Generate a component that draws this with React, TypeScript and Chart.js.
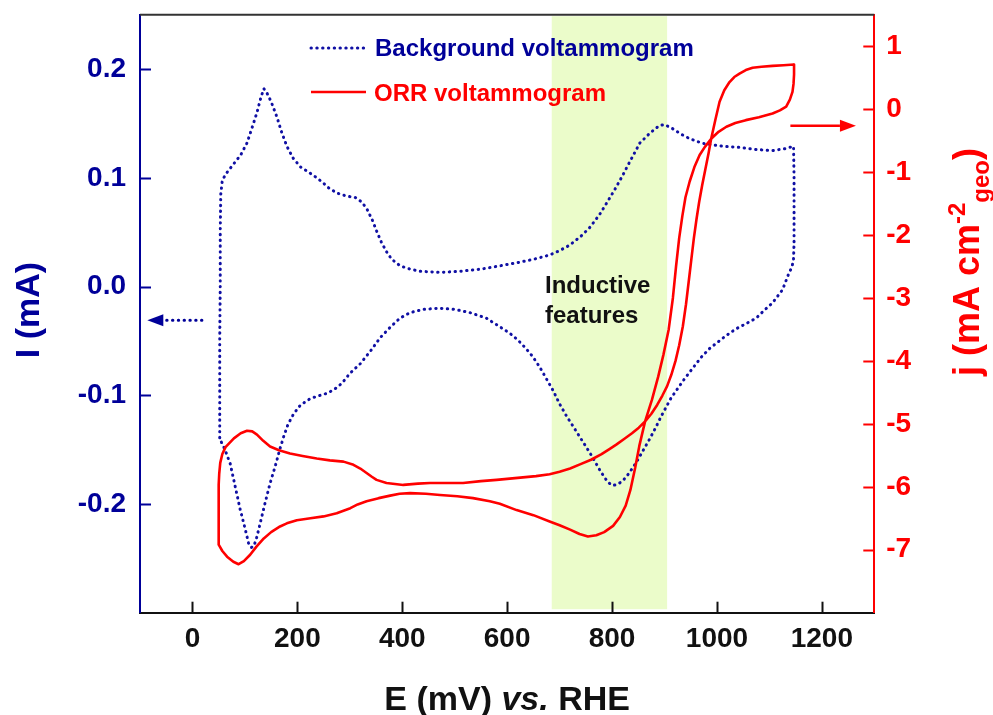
import { useEffect, useRef } from 'react';
import { Chart, registerables } from 'chart.js';

Chart.register(...registerables);

const FONT = '"Liberation Sans", Arial, Helvetica, sans-serif';
const BLUE = '#000099';
const DOT_BLUE = '#1010a4';
const RED = '#ff0000';
const BAND = '#ebfcca';

// Axis ticks
const potentialTicks = [0, 200, 400, 600, 800, 1000, 1200];
const currentTicks = [-0.2, -0.1, 0.0, 0.1, 0.2];
const densityTicks = [-7, -6, -5, -4, -3, -2, -1, 0, 1];

// Background CV (N2): potential in mV vs RHE, current in mA
const backgroundE = [
  52, 52, 52, 53, 53, 54, 57, 66, 79, 92, 104, 115, 123, 130, 136, 142, 150, 161, 170, 180,
  192, 206, 222, 237, 250, 259, 275, 295, 310, 322, 332, 343, 352, 360, 370, 380, 396, 415, 434, 472,
  510, 550, 586, 620, 650, 681, 700, 719, 740, 757, 776, 790, 805, 820, 833, 853, 872, 890, 900, 916,
  932, 948, 965, 979, 1011, 1043, 1075, 1106, 1132, 1146, 1147, 1147, 1147, 1146, 1143, 1137, 1125, 1106, 1090, 1075,
  1056, 1036, 1018, 1002, 986, 970, 954, 938, 922, 912, 903, 893, 884, 872, 859, 846, 832, 820, 810, 801,
  792, 778, 764, 750, 738, 725, 713, 700, 688, 675, 662, 648, 634, 620, 605, 586, 560, 529, 500, 470,
  440, 415, 396, 378, 358, 340, 320, 300, 285, 272, 258, 244, 225, 206, 193, 182, 174, 167, 158, 148,
  138, 129, 123, 117, 112, 107, 100, 91, 82, 72, 62, 55, 52,
];
const backgroundI = [
  -0.139, -0.1, -0.05, 0.0, 0.05, 0.085, 0.098, 0.105, 0.113, 0.121, 0.132, 0.148, 0.16, 0.173, 0.182, 0.178, 0.17, 0.156, 0.142, 0.129,
  0.118, 0.11, 0.105, 0.1, 0.095, 0.091, 0.086, 0.083, 0.082, 0.078, 0.072, 0.061, 0.05, 0.041, 0.032, 0.025, 0.019, 0.016, 0.014, 0.013,
  0.014, 0.016, 0.019, 0.022, 0.025, 0.029, 0.033, 0.038, 0.046, 0.054, 0.066, 0.077, 0.089, 0.102, 0.114, 0.132, 0.141, 0.148, 0.149, 0.145,
  0.14, 0.136, 0.133, 0.131, 0.129, 0.128, 0.126, 0.125, 0.127, 0.129, 0.1, 0.07, 0.04, 0.025, 0.018, 0.012, -0.003, -0.015, -0.022, -0.029,
  -0.034, -0.039, -0.045, -0.051, -0.057, -0.065, -0.075, -0.085, -0.096, -0.103, -0.111, -0.12, -0.129, -0.14, -0.151, -0.162, -0.172, -0.179, -0.182, -0.183,
  -0.18, -0.17, -0.158, -0.147, -0.138, -0.128, -0.119, -0.108, -0.096, -0.085, -0.074, -0.064, -0.056, -0.049, -0.043, -0.037, -0.029, -0.024, -0.021, -0.02,
  -0.021, -0.024, -0.029, -0.037, -0.047, -0.059, -0.071, -0.08, -0.089, -0.094, -0.098, -0.1, -0.103, -0.109, -0.117, -0.127, -0.138, -0.149, -0.165, -0.181,
  -0.2, -0.218, -0.23, -0.239, -0.24, -0.236, -0.222, -0.205, -0.185, -0.163, -0.15, -0.143, -0.139,
];

// ORR CV (O2): potential in mV vs RHE, current density in mA cm^-2 (geo)
const orrE = [
  1147, 1147, 1146, 1144, 1139, 1132, 1120, 1106, 1080, 1055, 1035, 1018, 1003, 989, 977, 967, 957, 948, 940, 934,
  928, 922, 916, 908, 898, 888, 876, 863, 852, 844, 835, 826, 815, 802, 785, 770, 754, 738, 720, 700,
  681, 650, 618, 586, 567, 535, 505, 472, 445, 415, 395, 377, 355, 332, 315, 301, 275, 250, 225, 199,
  180, 167, 150, 136, 122, 110, 98, 88, 78, 66, 57, 50, 50, 50, 50, 51, 53, 57, 63, 79,
  92, 104, 114, 123, 135, 148, 165, 186, 210, 237, 262, 288, 307, 320, 332, 342, 351, 370, 402, 430,
  453, 485, 516, 550, 580, 605, 630, 655, 681, 700, 720, 740, 760, 780, 795, 808, 823, 838, 851, 863,
  875, 886, 896, 905, 913, 921, 928, 935, 941, 946, 951, 956, 961, 966, 972, 978, 984, 989, 997, 1005,
  1014, 1024, 1033, 1043, 1055, 1068, 1085, 1106, 1127, 1147,
];
const orrJ = [
  0.708, 0.55, 0.4, 0.275, 0.15, 0.04, -0.02, -0.07, -0.13, -0.175, -0.22, -0.28, -0.36, -0.47, -0.6, -0.73, -0.92, -1.15, -1.4, -1.7,
  -2.05, -2.5, -3.0, -3.5, -3.9, -4.25, -4.62, -4.96, -5.35, -5.7, -6.05, -6.3, -6.48, -6.62, -6.72, -6.77, -6.79, -6.75, -6.68, -6.61,
  -6.55, -6.45, -6.37, -6.27, -6.23, -6.18, -6.15, -6.13, -6.11, -6.1, -6.11, -6.14, -6.18, -6.23, -6.28, -6.34, -6.42, -6.47, -6.5, -6.53,
  -6.58, -6.63, -6.72, -6.82, -6.95, -7.08, -7.18, -7.23, -7.19, -7.11, -7.02, -6.92, -6.6, -6.2, -5.97, -5.8, -5.62, -5.48, -5.37, -5.23,
  -5.15, -5.11, -5.12, -5.17, -5.27, -5.36, -5.42, -5.47, -5.51, -5.55, -5.58, -5.6, -5.65, -5.71, -5.78, -5.84, -5.89, -5.94, -5.97, -5.95,
  -5.94, -5.94, -5.94, -5.91, -5.89, -5.87, -5.85, -5.83, -5.8, -5.76, -5.71, -5.64, -5.57, -5.48, -5.4, -5.33, -5.24, -5.15, -5.06, -4.96,
  -4.84, -4.7, -4.55, -4.4, -4.22, -4.0, -3.75, -3.45, -3.1, -2.75, -2.4, -2.05, -1.75, -1.48, -1.2, -0.95, -0.7, -0.47, -0.17, 0.116,
  0.3, 0.43, 0.51, 0.565, 0.62, 0.656, 0.672, 0.687, 0.698, 0.708,
];

// Highlighted potential window (mV) and the axis-pointer arrows
const inductiveWindow = [685, 905];
const leftArrowE = [18, -86]; // tail, tip
const leftArrowI = -0.031;
const rightArrowE = [1140, 1265]; // tail, tip
const rightArrowJ = -0.265;

const DOT_DASH = [0.4, 5.4];
const DOT_WIDTH = 3;

function drawArrow(ctx: CanvasRenderingContext2D, x0: number, x1: number, y: number, color: string, dotted: boolean) {
  const dir = Math.sign(x1 - x0);
  const headLen = 16;
  const halfW = 6;
  ctx.save();
  ctx.strokeStyle = color;
  ctx.fillStyle = color;
  ctx.lineWidth = dotted ? DOT_WIDTH : 2.6;
  if (dotted) {
    ctx.setLineDash(DOT_DASH);
    ctx.lineCap = 'round';
  }
  ctx.beginPath();
  ctx.moveTo(x0, y);
  ctx.lineTo(x1 - dir * headLen, y);
  ctx.stroke();
  ctx.setLineDash([]);
  ctx.beginPath();
  ctx.moveTo(x1, y);
  ctx.lineTo(x1 - dir * headLen, y - halfW);
  ctx.lineTo(x1 - dir * headLen, y + halfW);
  ctx.closePath();
  ctx.fill();
  ctx.restore();
}

function drawRich(
  ctx: CanvasRenderingContext2D,
  parts: { t: string; f: string; dy: number }[],
  cx: number,
) {
  let total = 0;
  for (const p of parts) {
    ctx.font = p.f;
    total += ctx.measureText(p.t).width;
  }
  let x = cx - total / 2;
  ctx.textAlign = 'left';
  ctx.textBaseline = 'alphabetic';
  for (const p of parts) {
    ctx.font = p.f;
    ctx.fillText(p.t, x, p.dy);
    x += ctx.measureText(p.t).width;
  }
}

const decorPlugin = {
  id: 'cvDecor',
  beforeDatasetsDraw(chart: any) {
    const { ctx, chartArea: a, scales } = chart;
    const x0 = scales.x.getPixelForValue(inductiveWindow[0]);
    const x1 = scales.x.getPixelForValue(inductiveWindow[1]);
    ctx.save();
    ctx.fillStyle = BAND;
    ctx.fillRect(x0, a.top + 1.5, x1 - x0, a.bottom - a.top - 5);
    ctx.restore();
  },
  afterDraw(chart: any) {
    const { ctx, chartArea: a, scales } = chart;
    const { x, yL, yR } = scales;
    const ds = chart.data.datasets;
    ctx.save();

    // top frame
    ctx.strokeStyle = '#333333';
    ctx.lineWidth = 2;
    ctx.beginPath();
    ctx.moveTo(a.left, a.top);
    ctx.lineTo(a.right, a.top);
    ctx.stroke();

    // inward tick marks
    const TL = 11;
    ctx.lineWidth = 2;
    ctx.strokeStyle = BLUE;
    for (const v of currentTicks) {
      const py = Math.round(yL.getPixelForValue(v)) + 0.5;
      ctx.beginPath();
      ctx.moveTo(a.left, py);
      ctx.lineTo(a.left + TL, py);
      ctx.stroke();
    }
    ctx.strokeStyle = RED;
    for (const v of densityTicks) {
      const py = Math.round(yR.getPixelForValue(v)) + 0.5;
      ctx.beginPath();
      ctx.moveTo(a.right, py);
      ctx.lineTo(a.right - TL, py);
      ctx.stroke();
    }
    ctx.strokeStyle = '#111111';
    for (const v of potentialTicks) {
      const px = Math.round(x.getPixelForValue(v)) + 0.5;
      ctx.beginPath();
      ctx.moveTo(px, a.bottom);
      ctx.lineTo(px, a.bottom - TL);
      ctx.stroke();
    }

    // legend
    ctx.lineWidth = DOT_WIDTH;
    ctx.strokeStyle = DOT_BLUE;
    ctx.setLineDash(DOT_DASH);
    ctx.lineCap = 'round';
    ctx.beginPath();
    ctx.moveTo(311, 48);
    ctx.lineTo(364, 48);
    ctx.stroke();
    ctx.setLineDash([]);
    ctx.lineCap = 'butt';
    ctx.lineWidth = 2.6;
    ctx.strokeStyle = RED;
    ctx.beginPath();
    ctx.moveTo(311, 92);
    ctx.lineTo(366, 92);
    ctx.stroke();
    ctx.font = `bold 24px ${FONT}`;
    ctx.textAlign = 'left';
    ctx.textBaseline = 'alphabetic';
    ctx.fillStyle = BLUE;
    ctx.fillText(ds[0].label, 375, 56);
    ctx.fillStyle = RED;
    ctx.fillText(ds[1].label, 374, 101);

    // annotation inside the highlighted window
    ctx.fillStyle = '#111111';
    ctx.fillText('Inductive', 545, 293);
    ctx.fillText('features', 545, 323);

    // arrows pointing at each curve's axis
    drawArrow(ctx, x.getPixelForValue(leftArrowE[0]), x.getPixelForValue(leftArrowE[1]), yL.getPixelForValue(leftArrowI), BLUE, true);
    drawArrow(ctx, x.getPixelForValue(rightArrowE[0]), x.getPixelForValue(rightArrowE[1]), yR.getPixelForValue(rightArrowJ), RED, false);

    // axis titles
    const big = `bold 34px ${FONT}`;
    const bigItalic = `italic bold 34px ${FONT}`;
    const rBig = `bold 36px ${FONT}`;
    const rSmall = `bold 24px ${FONT}`;

    ctx.fillStyle = '#111111';
    ctx.save();
    ctx.translate(0, 710);
    drawRich(ctx, [
      { t: 'E (mV) ', f: big, dy: 0 },
      { t: 'vs.', f: bigItalic, dy: 0 },
      { t: ' RHE', f: big, dy: 0 },
    ], (a.left + a.right) / 2);
    ctx.restore();

    ctx.fillStyle = BLUE;
    ctx.save();
    ctx.translate(39, 310);
    ctx.rotate(-Math.PI / 2);
    drawRich(ctx, [{ t: 'I (mA)', f: big, dy: 0 }], 0);
    ctx.restore();

    ctx.fillStyle = RED;
    ctx.save();
    ctx.translate(979, 262);
    ctx.rotate(-Math.PI / 2);
    drawRich(ctx, [
      { t: 'j (mA cm', f: rBig, dy: 0 },
      { t: '-2', f: rSmall, dy: -14 },
      { t: 'geo', f: rSmall, dy: 10 },
      { t: ')', f: rBig, dy: 0 },
    ], 0);
    ctx.restore();

    ctx.restore();
  },
};

const tickFont = { family: FONT, size: 28, weight: 'bold' as const };

export default function App() {
  const canvasRef = useRef<HTMLCanvasElement | null>(null);

  useEffect(() => {
    const canvas = canvasRef.current;
    if (!canvas) return;

    const chart = new Chart(canvas, {
      type: 'scatter',
      data: {
        datasets: [
          {
            label: 'Background voltammogram',
            data: backgroundE.map((e, i) => ({ x: e, y: backgroundI[i] })),
            yAxisID: 'yL',
            showLine: true,
            borderColor: DOT_BLUE,
            borderWidth: DOT_WIDTH,
            borderDash: DOT_DASH,
            borderCapStyle: 'round',
            pointRadius: 0,
            tension: 0,
            order: 2,
          },
          {
            label: 'ORR voltammogram',
            data: orrE.map((e, i) => ({ x: e, y: orrJ[i] })),
            yAxisID: 'yR',
            showLine: true,
            borderColor: RED,
            borderWidth: 2.6,
            borderJoinStyle: 'round',
            pointRadius: 0,
            tension: 0,
            order: 1,
          },
        ],
      },
      options: {
        responsive: false,
        animation: false,
        events: [],
        layout: { padding: { top: 14.7, left: 0, right: 0, bottom: 0 } },
        plugins: { legend: { display: false }, tooltip: { enabled: false } },
        scales: {
          x: {
            type: 'linear',
            position: 'bottom',
            min: -100,
            max: 1300,
            afterBuildTicks: (s: any) => {
              s.ticks = potentialTicks.map((v) => ({ value: v }));
            },
            afterFit: (s: any) => {
              s.height = 102.3;
              s.paddingLeft = 0;
              s.paddingRight = 0;
            },
            grid: { display: false, drawTicks: false },
            border: { display: true, color: '#111111', width: 2 },
            ticks: {
              color: '#111111',
              font: tickFont,
              padding: 10,
              maxRotation: 0,
              autoSkip: false,
              callback: (v: any) => String(v),
            },
          },
          yL: {
            type: 'linear',
            position: 'left',
            min: -0.3,
            max: 0.25,
            afterBuildTicks: (s: any) => {
              s.ticks = currentTicks.map((v) => ({ value: v }));
            },
            afterFit: (s: any) => {
              s.width = 140;
              s.paddingTop = 0;
              s.paddingBottom = 0;
            },
            grid: { display: false, drawTicks: false },
            border: { display: true, color: BLUE, width: 2 },
            ticks: {
              color: BLUE,
              font: tickFont,
              padding: 14,
              autoSkip: false,
              callback: (v: any) => Number(v).toFixed(1),
            },
          },
          yR: {
            type: 'linear',
            position: 'right',
            min: -8,
            max: 1.5,
            afterBuildTicks: (s: any) => {
              s.ticks = densityTicks.map((v) => ({ value: v }));
            },
            afterFit: (s: any) => {
              s.width = 118.7;
              s.paddingTop = 0;
              s.paddingBottom = 0;
            },
            grid: { display: false, drawTicks: false },
            border: { display: true, color: RED, width: 2 },
            ticks: {
              color: RED,
              font: tickFont,
              padding: 12,
              autoSkip: false,
              callback: (v: any) => String(v),
            },
          },
        },
      } as any,
      plugins: [decorPlugin],
    });

    return () => chart.destroy();
  }, []);

  return (
    <div style={{ position: 'absolute', left: 0, top: 0, width: 993, height: 715, background: '#ffffff' }}>
      <canvas ref={canvasRef} width={993} height={715} />
    </div>
  );
}
